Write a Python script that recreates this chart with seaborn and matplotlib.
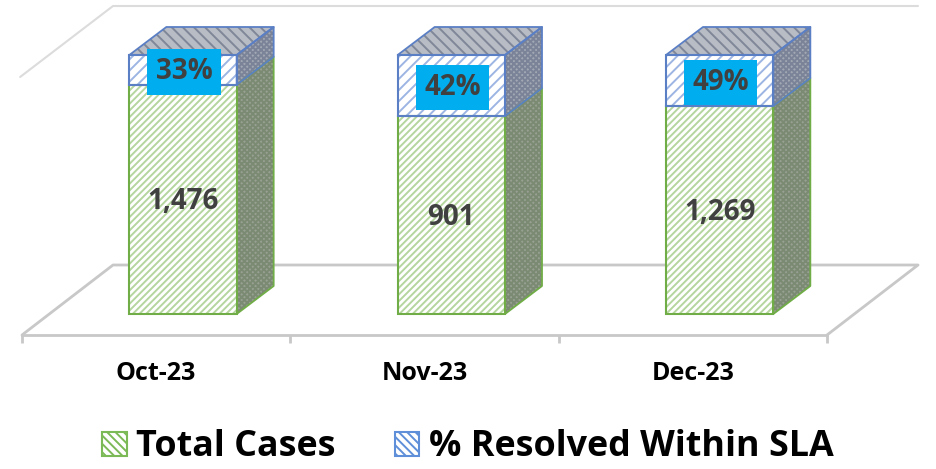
import matplotlib
matplotlib.use('Agg')
import matplotlib.pyplot as plt
import pandas as pd
import seaborn as sns
from matplotlib.patches import Patch, Polygon, Rectangle

# Values
months = ['Oct-23', 'Nov-23', 'Dec-23']
total_cases = [1476, 901, 1269]
pct_resolved = [33, 42, 49]
green_share = [0.885, 0.764, 0.803]   # 100% stacked, green part of each column

df = pd.DataFrame({'month': months, 'cases': total_cases, 'pct': pct_resolved, 'share': green_share})
df['full'] = 1.0

sns.set_theme(style='white')
plt.rcParams['font.family'] = ['Open Sans', 'DejaVu Sans']
plt.rcParams['hatch.linewidth'] = 1.4

GREEN = '#70ad47'
BLUE = '#5b7fc4'
GRID = '#c8c8c8'
FLOOR = -21 / 259
SHIFT = 0.1            # columns stand in the middle of the floor depth
DX, DY = 37 / 268.3, 28 / 259
FDX, FDY = 91 / 268.3, 70 / 259
NUDGE = 2 / 259        # text sits a little low in the reference


def face(ax, pts, fill, hatch_col, hatch, edge, z=3):
    ax.add_patch(Polygon(pts, closed=True, facecolor=fill, edgecolor=hatch_col, hatch=hatch,
                         linewidth=0, zorder=z, clip_on=False))
    ax.add_patch(Polygon(pts, closed=True, fill=False, edgecolor=edge, linewidth=1.3,
                         zorder=z + 0.1, clip_on=False, joinstyle='round'))


fig = plt.figure(figsize=(9.36, 4.69), dpi=100)
ax = fig.add_axes([22 / 936, (469 - 335) / 469, 805 / 936, 280 / 469])

# Front faces, the blue column first and the green one over it
sns.barplot(data=df, x='month', y='full', color='white', saturation=1, width=0.4, ax=ax,
            edgecolor='#9db5e3', hatch='///', linewidth=0, zorder=3)
sns.barplot(data=df, x='month', y='share', color='white', saturation=1, width=0.4, ax=ax,
            edgecolor='#b5d69f', hatch='/////', linewidth=0, zorder=3.2)

ax.set_xlim(-0.5, 2.5)
ax.set_ylim(FLOOR, 1)
ax.set_xlabel('')
ax.set_ylabel('')
ax.set_yticks([])
for s in ['top', 'left', 'right']:
    ax.spines[s].set_visible(False)
ax.spines['bottom'].set_color(GRID)
ax.spines['bottom'].set_linewidth(2)
ax.set_xticks([-0.5, 0.5, 1.5, 2.5], minor=True)
ax.tick_params(axis='x', which='minor', length=6, width=2, color=GRID, bottom=True)
ax.tick_params(axis='x', which='major', length=0, pad=19)
for t in ax.get_xticklabels():
    t.set_fontsize(18)
    t.set_fontweight('bold')
    t.set_color('black')

# Floor and back wall
left, right = -0.5, 2.5
wall_top = 308 / 259
ax.plot([left, left + FDX, right + FDX, right], [FLOOR, FLOOR + FDY, FLOOR + FDY, FLOOR],
        color=GRID, lw=2, clip_on=False, zorder=1)
ax.plot([left - 0.007, left + FDX, right + FDX], [wall_top - 71 / 259, wall_top, wall_top],
        color='#dcdcdc', lw=1.5, clip_on=False, zorder=1)

# Shift the columns, then add the sides, top and outlines
for cont in ax.containers:
    for p in cont:
        p.set_x(p.get_x() + SHIFT)

for i, row in df.iterrows():
    x0 = ax.containers[0][i].get_x()
    x1 = x0 + ax.containers[0][i].get_width()
    s = row['share']
    ax.add_patch(Rectangle((x0, 0), x1 - x0, s, fill=False, edgecolor=GREEN, linewidth=1.5,
                           zorder=3.4, clip_on=False))
    ax.add_patch(Rectangle((x0, s), x1 - x0, 1 - s, fill=False, edgecolor=BLUE, linewidth=1.5,
                           zorder=3.5, clip_on=False))
    face(ax, [(x1, 0), (x1 + DX, DY), (x1 + DX, s + DY), (x1, s)], '#98a192', '#7b8a72', 'xxxxxx', GREEN)
    face(ax, [(x1, s), (x1 + DX, s + DY), (x1 + DX, 1 + DY), (x1, 1)], '#a2a8b4', '#7a8398', 'xxxxxx', BLUE)
    face(ax, [(x0, 1), (x1, 1), (x1 + DX, 1 + DY), (x0 + DX, 1 + DY)], '#b8bcc4', '#7f8798', '\\\\\\', BLUE)

    xc = (x0 + x1) / 2
    ax.text(xc, s / 2 - NUDGE, f"{row['cases']:,}", ha='center', va='center', fontsize=20,
            fontweight='bold', color='#404040', zorder=6)
    ax.text(xc + 0.004, (1 + s) / 2 - NUDGE, f"{row['pct']}%", ha='center', va='center', fontsize=20,
            fontweight='bold', color='#404040', zorder=6,
            bbox=dict(boxstyle='square,pad=0.3', facecolor='#00aeef', edgecolor='none'))

handles = [Patch(facecolor='white', edgecolor='#7cb957', hatch='\\\\\\\\', linewidth=1.5),
           Patch(facecolor='white', edgecolor='#5f8fd8', hatch='\\\\\\\\', linewidth=1.5)]
fig.legend(handles, ['Total Cases', '% Resolved Within SLA'], loc='center', ncol=2,
           bbox_to_anchor=(0.5, 0.046), frameon=False, labelcolor='black',
           prop={'weight': 'bold', 'size': 25.8}, handlelength=0.68, handleheight=0.68,
           handletextpad=0.27, columnspacing=1.65, borderpad=0)

fig.savefig('out.png', dpi=100)
